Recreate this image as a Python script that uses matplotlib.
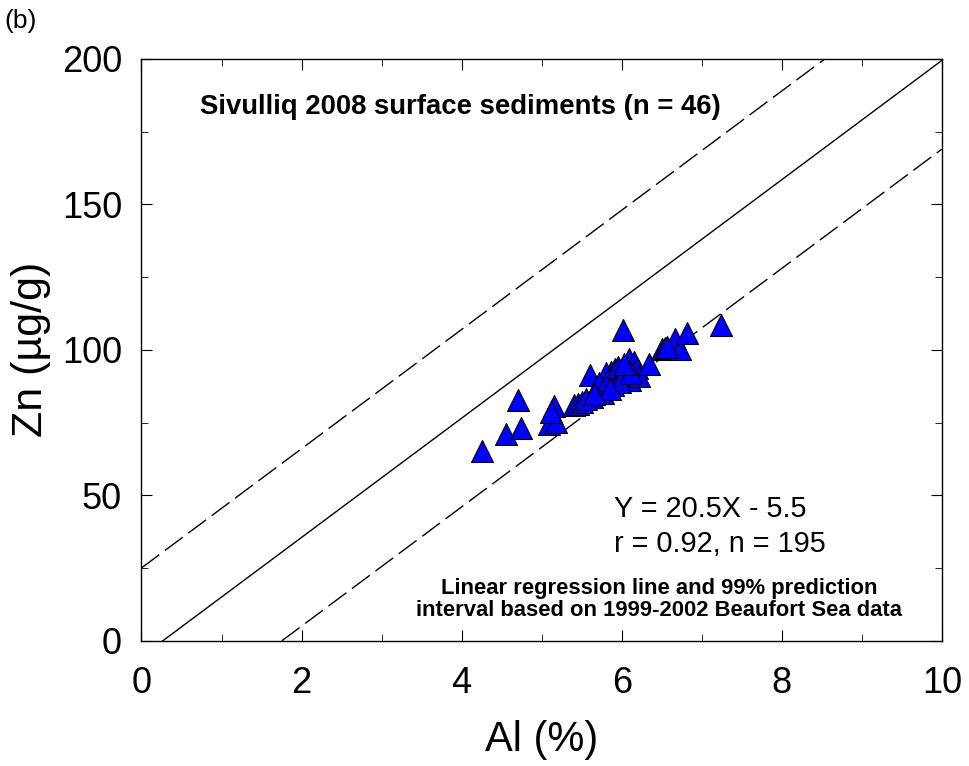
import numpy as np
import matplotlib.pyplot as plt
from matplotlib.ticker import MultipleLocator

plt.rcParams["font.family"] = ["Liberation Sans", "DejaVu Sans"]

# Sivulliq 2008 surface sediments, Al (%) vs Zn (ug/g)
al = [4.25, 4.56, 4.74, 4.70, 5.09, 5.18, 5.16, 5.40, 5.46, 5.51,
      5.61, 5.63, 5.69, 5.77, 5.78, 5.86, 5.89, 5.80, 5.92, 6.02,
      6.09, 6.04, 6.10, 6.15, 6.19, 6.21, 6.34, 6.50, 6.54, 6.67,
      6.73, 6.81, 7.24, 5.55, 5.72, 5.83, 5.95, 6.00, 6.05, 5.98,
      6.12, 5.85, 5.66, 6.03, 5.12, 6.57]
zn = [65.2, 71.0, 73.0, 82.8, 74.5, 75.3, 80.7, 80.9, 81.4, 82.2,
      91.4, 83.9, 87.1, 85.1, 87.6, 92.5, 87.9, 91.9, 93.3, 106.8,
      96.8, 90.2, 89.5, 95.9, 93.7, 91.0, 95.0, 100.3, 100.5, 103.6,
      100.2, 105.7, 108.7, 83.0, 88.5, 89.5, 94.0, 92.0, 93.5, 88.8,
      92.2, 86.5, 84.8, 95.2, 78.5, 101.0]

# regression from 1999-2002 Beaufort Sea data
slope = 20.5
intercept = -5.5
pi_half = 30.5

fig = plt.figure(figsize=(9.69, 7.66), dpi=100)
ax = fig.add_axes([0.146, 0.1636, 0.826, 0.7594])

xx = np.array([0.0, 10.0])
ax.plot(xx, slope * xx + intercept, color="black", lw=1.0)
ax.plot(xx, slope * xx + intercept + pi_half, color="black", lw=1.0, dashes=(16, 5))
ax.plot(xx, slope * xx + intercept - pi_half, color="black", lw=1.0, dashes=(16, 5))

ax.scatter(al, zn, marker="^", s=250, facecolor="#0000ff", edgecolor="black",
           linewidth=0.8, zorder=3)

ax.set_xlim(0, 10)
ax.set_ylim(0, 200)
ax.xaxis.set_major_locator(MultipleLocator(2))
ax.xaxis.set_minor_locator(MultipleLocator(1))
ax.yaxis.set_major_locator(MultipleLocator(50))
ax.yaxis.set_minor_locator(MultipleLocator(25))
ax.tick_params(which="both", direction="in", top=True, right=True, labelsize=26)
ax.tick_params(axis="x", which="both", pad=18)
ax.tick_params(axis="y", which="both", pad=14)
ax.tick_params(which="major", length=8)
ax.tick_params(which="minor", length=5)
for s in ax.spines.values():
    s.set_linewidth(1.0)

ax.set_xlabel("Al (%)", fontsize=30, va="center")
ax.xaxis.set_label_coords(0.5, -0.171)
ax.set_ylabel("Zn (µg/g)", fontsize=31, va="center")
ax.yaxis.set_label_coords(-0.138, 0.5)

ax.text(0.73, 183.5, "Sivulliq 2008 surface sediments (n = 46)", fontsize=19.8,
        fontweight="bold", va="center", ha="left")
ax.text(5.9, 45.3, "Y = 20.5X - 5.5", fontsize=20.8, va="center", ha="left")
ax.text(5.9, 33.2, "r = 0.92, n = 195", fontsize=20.8, va="center", ha="left")
ax.text(6.47, 14.1, "Linear regression line and 99% prediction\ninterval based on 1999-2002 Beaufort Sea data",
        fontsize=15.8, fontweight="bold", va="center", ha="center", linespacing=1.05)

fig.text(0.004, 0.972, "(b)", fontsize=19, va="center", ha="left")

fig.savefig("out.png", dpi=100)
